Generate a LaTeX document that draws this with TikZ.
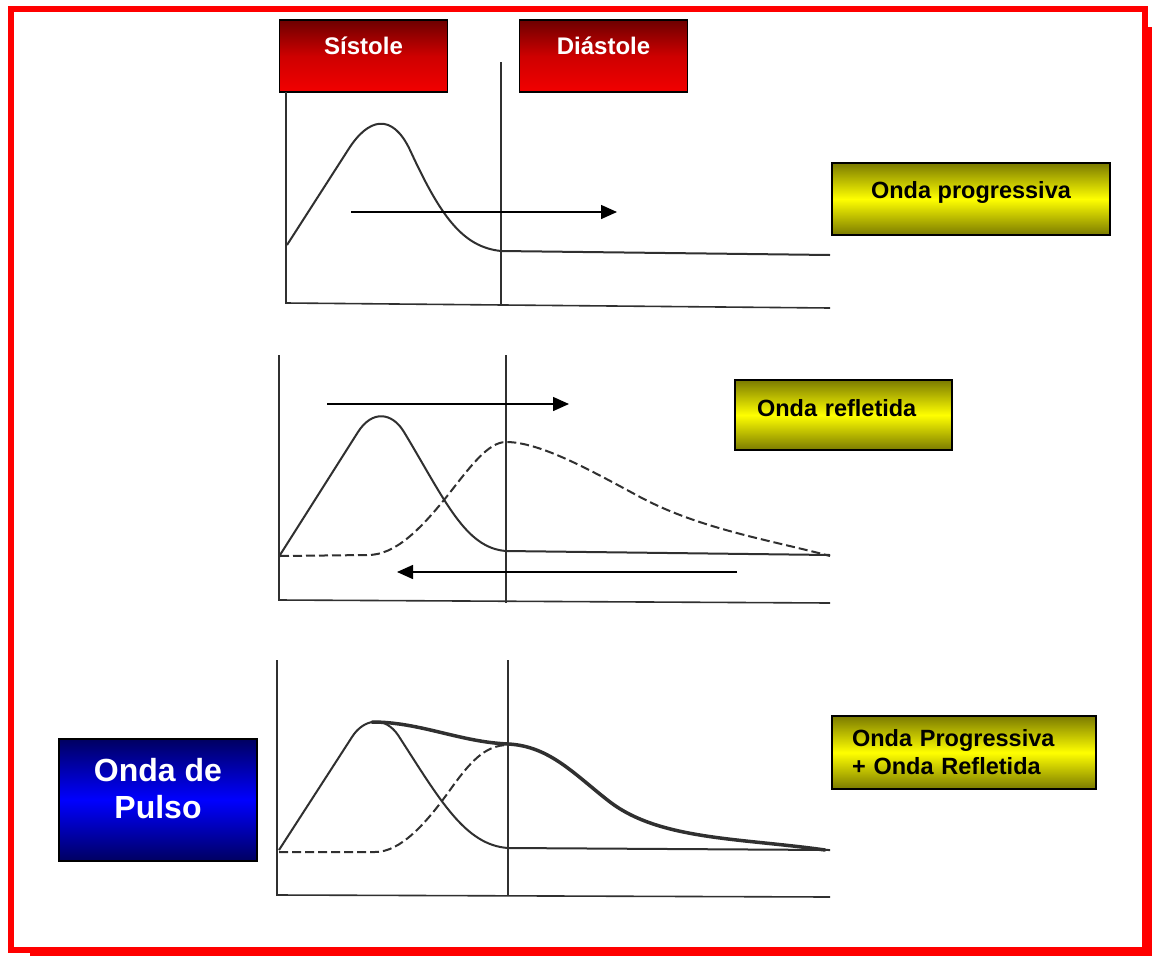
\documentclass[tikz,border=0pt]{standalone}
\usepackage{fontspec}
\setmainfont{Liberation Sans}
\usetikzlibrary{arrows.meta}
\definecolor{frred}{HTML}{FF0000}
\definecolor{hdred}{HTML}{F20000}
\definecolor{lbyel}{HTML}{FFFF00}
\definecolor{lbblue}{HTML}{0000FF}
\definecolor{crvgray}{HTML}{303030}

\begin{document}
\begin{tikzpicture}[x=1pt, y=-1pt,
    hdr/.style={draw=black, line width=1.5pt, top color=hdred!45!black,
                bottom color=hdred, middle color=hdred!85!black, text=white,
                font=\fontsize{24}{28}\selectfont\bfseries, minimum width=168pt,
                inner ysep=0pt, text height=34pt, text depth=38pt},
    lbl/.style={draw=black, line width=1.5pt, top color=lbyel!48!black,
                bottom color=lbyel!48!black, middle color=lbyel,
                font=\fontsize{23.5}{28}\selectfont\bfseries, inner ysep=0pt},
    pulso/.style={draw=black, line width=1.5pt, top color=lbblue!38!black,
                  bottom color=lbblue!38!black, middle color=lbblue, text=white,
                  font=\fontsize{32}{37}\selectfont\bfseries, align=center,
                  minimum width=198pt, minimum height=122pt},
    ax/.style={line width=1.6pt, draw=crvgray},
    crv/.style={line width=2pt, draw=crvgray, line join=round},
    dsh/.style={crv, dash pattern=on 9pt off 4pt},
    tot/.style={line width=3.5pt, draw=crvgray, line cap=round},
    arr/.style={-{Triangle[length=16pt,width=14pt]}, line width=1.5pt}
]
  \useasboundingbox (0,0) rectangle (1152,956);
  \fill[frred] (30,27) rectangle (1152,956);
  \draw[frred, fill=white, line width=6pt] (11,9) rectangle (1145,950);

  \node[hdr] (sis) at (363.5,56) {Sístole};
  \node[hdr] (dia) at (603.5,56) {Diástole};
  \node[lbl, minimum width=278pt, text height=35pt, text depth=37pt] (prog) at (971,199) {Onda progressiva};
  \node[lbl, text width=173pt, inner xsep=22pt, align=left, text height=36pt, text depth=34pt] (refl) at (843.5,415) {Onda refletida};
  \node[lbl, text width=224pt, inner xsep=20pt, align=left, minimum height=73pt] (soma) at (964,752.5) {Onda Progressiva\\+ Onda Refletida};
  \node[pulso] (pul) at (158,800) {Onda de\\Pulso\rule[-24pt]{0pt}{0pt}};

  \draw[ax] (286,92) -- (286,303) -- (830,308);
  \draw[ax] (501,62) -- (501,305);
  \draw[crv] (287,245) -- (348,150) .. controls (368,118) and (392,112) .. (410,150)
    .. controls (440,215) and (462,247) .. (501,251) -- (830,255);
  \coordinate (p1a) at (351,212);
  \coordinate (p1b) at (617,212);
  \draw[arr] (p1a) -- (p1b);

  \draw[ax] (279,355) -- (279,600) -- (830,603);
  \draw[ax] (506,355) -- (506,603);
  \draw[crv] (280,555) -- (358,432) .. controls (372,410) and (392,412) .. (404,432)
    .. controls (445,500) and (465,548) .. (506,551) -- (830,555);
  \draw[dsh] (280,556) -- (368,555) .. controls (395,555) and (420,530) .. (448,495)
    .. controls (470,467) and (488,442) .. (506,442)
    .. controls (540,442) and (590,470) .. (640,497)
    .. controls (700,529) and (770,540) .. (830,556);
  \coordinate (p2a) at (327,404);
  \coordinate (p2b) at (569,404);
  \draw[arr] (p2a) -- (p2b);
  \coordinate (p2c) at (737,572);
  \coordinate (p2d) at (397,572);
  \draw[arr] (p2c) -- (p2d);

  \draw[ax] (277,660) -- (277,895) -- (830,897);
  \draw[ax] (508,660) -- (508,896);
  \draw[crv] (279,850) -- (352,737) .. controls (364,718) and (385,716) .. (398,735)
    .. controls (440,800) and (465,845) .. (508,848) -- (830,850);
  \draw[dsh] (279,852) -- (375,852) .. controls (400,852) and (425,825) .. (450,790)
    .. controls (470,762) and (485,745) .. (508,745);
  \draw[tot] (372,722) .. controls (420,722) and (460,742) .. (508,744)
    .. controls (550,746) and (575,775) .. (610,802)
    .. controls (660,840) and (740,838) .. (825,850);
\end{tikzpicture}
\end{document}
